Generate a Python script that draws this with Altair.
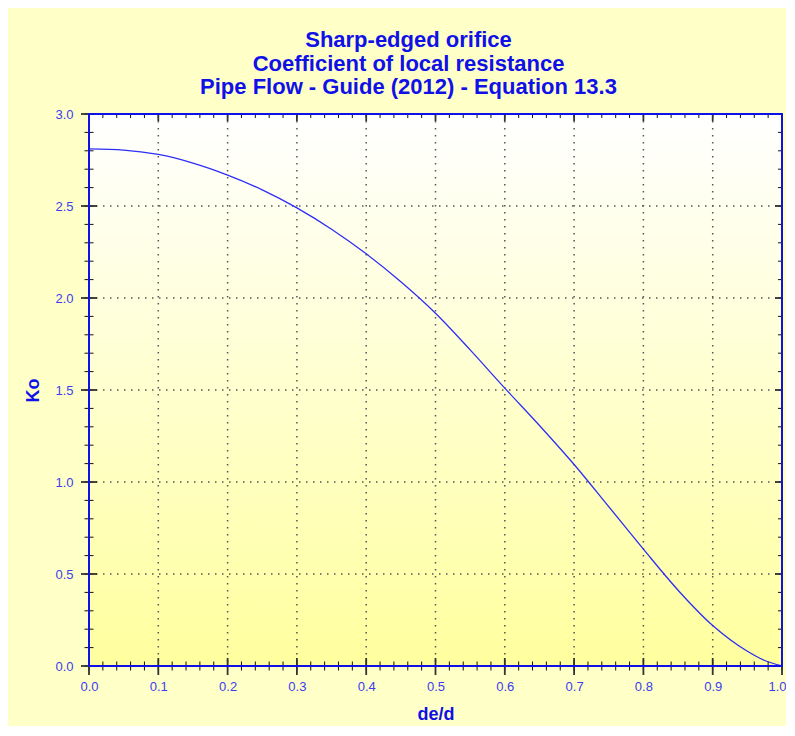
import altair as alt
import numpy as np
import pandas as pd

# ---- data ----
de_d = [0.0, 0.05, 0.1, 0.15, 0.2, 0.25, 0.3, 0.35, 0.4, 0.45, 0.5, 0.55,
        0.6, 0.65, 0.7, 0.75, 0.8, 0.85, 0.9, 0.95, 0.975, 1.0]
ko = [2.81, 2.804, 2.78, 2.733, 2.668, 2.588, 2.49, 2.374, 2.24, 2.088, 1.917, 1.718,
      1.51, 1.307, 1.095, 0.866, 0.635, 0.412, 0.22, 0.08, 0.03, 0.0]

x_major = [0.0, 0.1, 0.2, 0.3, 0.4, 0.5, 0.6, 0.7, 0.8, 0.9, 1.0]
y_major = [0.0, 0.5, 1.0, 1.5, 2.0, 2.5, 3.0]
x_minor = [round(v, 2) for v in np.arange(0, 1.0001, 0.02)]
y_minor = [round(v, 1) for v in np.arange(0, 3.0001, 0.1)]

title_lines = ["Sharp-edged orifice",
               "Coefficient of local resistance",
               "Pipe Flow - Guide (2012) - Equation 13.3"]

W, H = 693, 552
BLUE = "#1010E8"
LBL = "#3C3CF0"
FONT = "Liberation Sans"

xs = alt.Scale(domain=[0, 1], nice=False, zero=False)
ys = alt.Scale(domain=[0, 3], nice=False, zero=False)

x_axis = alt.Axis(title="de/d", values=x_major, format=".1f",
                  ticks=False, grid=False, domain=False,
                  labelPadding=14, labelFontSize=13, labelColor=LBL,
                  labelFont=FONT, titleFont=FONT, titleFontSize=18,
                  titleColor=BLUE, titleFontWeight="bold",
                  titlePadding=12, labelFlush=False,
                  labelAlign={"condition": {"test": "datum.value >= 0.99", "value": "right"},
                              "value": "center"},
                  labelOffset={"condition": {"test": "datum.value >= 0.99", "value": 4},
                               "value": 0})
y_axis = alt.Axis(title="Ko", values=y_major, format=".1f",
                  ticks=False, grid=False, domain=False,
                  labelPadding=16, labelFontSize=13, labelColor=LBL,
                  labelFont=FONT, titleFont=FONT, titleFontSize=18,
                  titleColor=BLUE, titleFontWeight="bold",
                  titlePadding=12, labelFlush=False)

curve_df = pd.DataFrame({"x": de_d, "y": ko})
one = pd.DataFrame({"a": [0]})

bg = alt.Chart(one).mark_rect(
    color=alt.Gradient(
        gradient="linear",
        stops=[alt.GradientStop(color="#FFFFFF", offset=0),
               alt.GradientStop(color="#FFFF9E", offset=1)],
        x1=0, x2=0, y1=0, y2=1),
).encode(x=alt.value(0), x2=alt.value(W), y=alt.value(0), y2=alt.value(H))

grid_x = alt.Chart(pd.DataFrame({"x": x_major[1:-1]})).mark_rule(
    color="#555555", strokeDash=[1.5, 5.5], strokeWidth=1.5
).encode(x=alt.X("x:Q", scale=xs, axis=x_axis), y=alt.value(0), y2=alt.value(H))

grid_y = alt.Chart(pd.DataFrame({"y": y_major[1:-1]})).mark_rule(
    color="#555555", strokeDash=[1.5, 5.5], strokeWidth=1.5
).encode(y=alt.Y("y:Q", scale=ys, axis=y_axis), x=alt.value(0), x2=alt.value(W))

line = alt.Chart(curve_df).mark_line(
    color="#2E2EF5", strokeWidth=1.3, interpolate="monotone"
).encode(
    x=alt.X("x:Q", scale=xs, axis=x_axis),
    y=alt.Y("y:Q", scale=ys, axis=y_axis),
)

def xtick(vals, y0, y1, w, col):
    return alt.Chart(pd.DataFrame({"x": vals})).mark_rule(
        color=col, strokeWidth=w
    ).encode(x=alt.X("x:Q", scale=xs, axis=x_axis), y=alt.value(y0), y2=alt.value(y1))

def ytick(vals, x0, x1, w, col):
    return alt.Chart(pd.DataFrame({"y": vals})).mark_rule(
        color=col, strokeWidth=w
    ).encode(y=alt.Y("y:Q", scale=ys, axis=y_axis), x=alt.value(x0), x2=alt.value(x1))

ticks = [
    xtick(x_minor, H - 4.5, H + 4.5, 1, "#111111"),
    xtick(x_major, H - 8, H + 9, 1.8, "#333333"),
    ytick(y_minor, -4.5, 4.5, 1, "#111111"),
    ytick(y_major, -8, 8, 1.8, "#333333"),
    xtick(x_minor, 0, 4, 1, "#111111"),
    xtick(x_major, 0, 7, 1.8, "#333333"),
    ytick(y_minor, W - 4, W, 1, "#111111"),
    ytick(y_major, W - 7, W, 1.8, "#333333"),
]

frame = alt.Chart(one).mark_rect(
    fill=None, stroke=BLUE, strokeWidth=2
).encode(x=alt.value(0), x2=alt.value(W), y=alt.value(0), y2=alt.value(H))

chart = alt.layer(bg, grid_x, grid_y, line, *ticks, frame).properties(
    width=W, height=H,
    title=alt.TitleParams(
        text=title_lines, anchor="middle", dx=-27, offset=9,
        font=FONT, fontSize=22, fontWeight="bold", color=BLUE, lineHeight=23.5),
    autosize=alt.AutoSizeParams(type="none"),
    padding={"left": 81, "top": 106, "right": 4, "bottom": 60},
).configure(background="#FFFFC8").configure_view(stroke=None)

chart.save("out.html", embed_options={"renderer": "svg", "actions": False})
